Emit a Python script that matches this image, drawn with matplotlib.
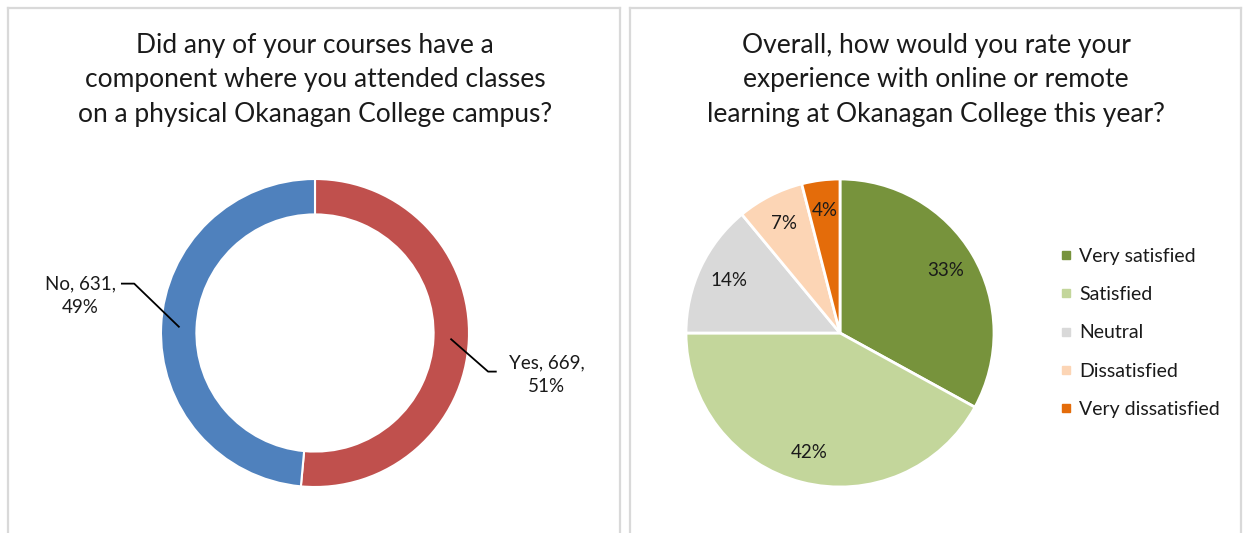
import matplotlib
matplotlib.use('Agg')
import matplotlib.pyplot as plt
import numpy as np
from matplotlib.lines import Line2D

plt.rcParams['font.family'] = ['Lato', 'DejaVu Sans']

# left chart data
campus_labels = ['Yes', 'No']
campus_counts = [669, 631]
campus_colors = ['#C0504D', '#4F81BD']
campus_title = 'Did any of your courses have a\ncomponent where you attended classes\non a physical Okanagan College campus?'

# right chart data
rating_labels = ['Very satisfied', 'Satisfied', 'Neutral', 'Dissatisfied', 'Very dissatisfied']
rating_pct = [33, 42, 14, 7, 4]
rating_colors = ['#77933C', '#C3D69B', '#D9D9D9', '#FCD5B5', '#E46C0A']
rating_title = 'Overall, how would you rate your\nexperience with online or remote\nlearning at Okanagan College this year?'

W, H = 1244, 533
fig = plt.figure(figsize=(W / 100, H / 100), dpi=100)
fig.patch.set_facecolor('white')


def px_axes(cx, cy, r):
    # square axes of radius r pixels centred at (cx, cy), y measured from top
    return fig.add_axes([(cx - r) / W, (H - cy - r) / H, 2 * r / W, 2 * r / H])


# panel borders (light grey, open at the bottom)
border = '#D9D9D9'
for x0, x1 in [(8, 620), (630, 1241)]:
    fig.add_artist(Line2D([x0 / W, x0 / W], [0, 1 - 8 / H], color=border, lw=1.6))
    fig.add_artist(Line2D([x1 / W, x1 / W], [0, 1 - 8 / H], color=border, lw=1.6))
    fig.add_artist(Line2D([x0 / W, x1 / W], [1 - 8 / H, 1 - 8 / H], color=border, lw=1.6))

# titles
fig.text(315 / W, 1 - 80 / H, campus_title, ha='center', va='center', fontsize=19,
         color='#1a1a1a', linespacing=1.48)
fig.text(936 / W, 1 - 80 / H, rating_title, ha='center', va='center', fontsize=19,
         color='#1a1a1a', linespacing=1.48)

# ---- donut ----
ax1 = px_axes(315, 333, 154)
wedges, _ = ax1.pie(campus_counts, colors=campus_colors, startangle=90, counterclock=False,
                    radius=1.0, wedgeprops=dict(width=0.23, edgecolor='white', linewidth=1.5))
ax1.set_xlim(-1, 1); ax1.set_ylim(-1, 1)
total = sum(campus_counts)
for w, lab, n in zip(wedges, campus_labels, campus_counts):
    ang = np.deg2rad((w.theta1 + w.theta2) / 2)
    ax_, ay_ = 0.885 * np.cos(ang), 0.885 * np.sin(ang)
    side = np.sign(np.cos(ang))
    txt = f'{lab}, {n},\n{n / total:.0%}'
    if side > 0:
        elbow = (ax_ + 0.24, ay_ - 0.21)
        end = (elbow[0] + 0.05, elbow[1])
        tpos = (end[0] + 0.33, end[1] - 0.02)
    else:
        elbow = (ax_ - 0.29, ay_ + 0.28)
        end = (elbow[0] - 0.08, elbow[1])
        tpos = (end[0] - 0.27, end[1] - 0.08)
    ax1.plot([ax_, elbow[0], end[0]], [ay_, elbow[1], end[1]], color='black', lw=1.3,
             clip_on=False)
    ax1.text(tpos[0], tpos[1], txt, ha='center', va='center', fontsize=13.5,
             color='#1a1a1a', linespacing=1.45, clip_on=False)

# ---- pie ----
ax2 = px_axes(840, 333, 154)
w2, _, autot = ax2.pie(rating_pct, colors=rating_colors, startangle=90, counterclock=False,
                       autopct='%.0f%%', pctdistance=0.8,
                       wedgeprops=dict(edgecolor='white', linewidth=2))
ax2.set_xlim(-1, 1); ax2.set_ylim(-1, 1)
for t in autot:
    t.set_fontsize(13.5)
    t.set_color('#1a1a1a')

handles = [plt.Line2D([], [], marker='s', linestyle='none', markersize=6,
                      markerfacecolor=c, markeredgecolor=c) for c in rating_colors]
fig.legend(handles, rating_labels, loc='center left', bbox_to_anchor=(1039 / W, 1 - 333 / H),
           frameon=False, fontsize=14, labelspacing=1.1, handletextpad=0.15,
           handlelength=1.0, labelcolor='#1a1a1a')

fig.savefig('out.png', dpi=100)
